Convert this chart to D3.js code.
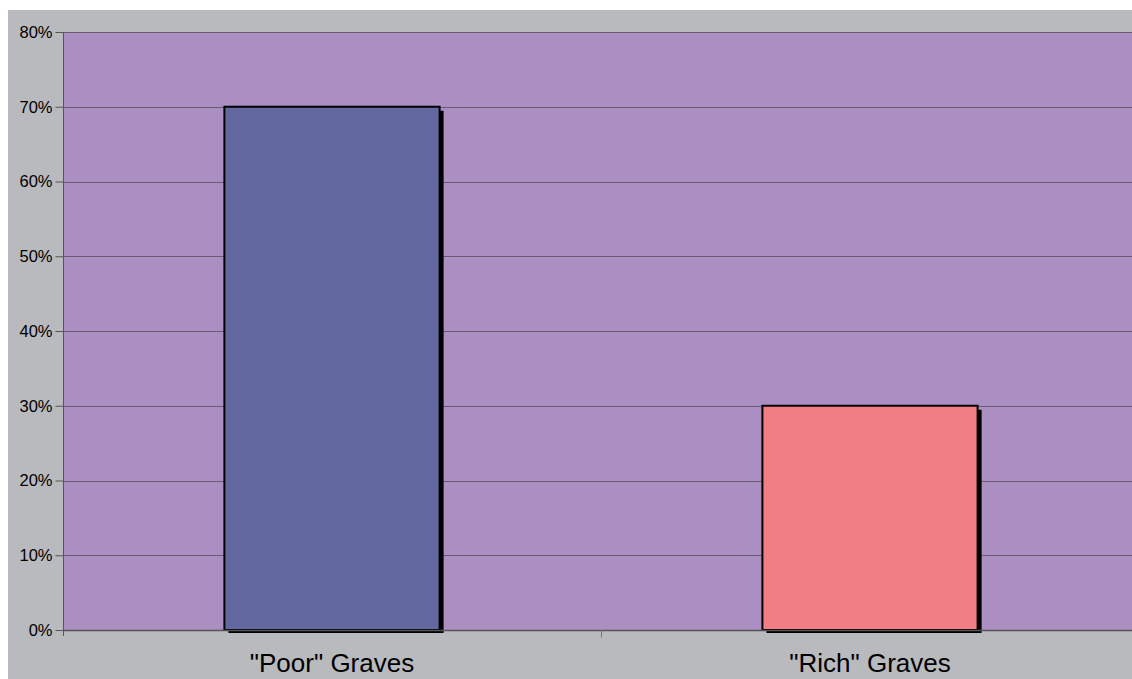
<!DOCTYPE html>
<html>
<head>
<meta charset="utf-8">
<script src="https://cdn.jsdelivr.net/npm/d3@7"></script>
<style>
  html, body { margin: 0; padding: 0; background: #ffffff; }
  svg { display: block; }
</style>
</head>
<body>
<svg id="chart" width="1132" height="679"></svg>
<script>
// Share of graves by type
const categories = ['"Poor" Graves', '"Rich" Graves'];
const values = [0.70, 0.30];
const barColors = ["#6468a0", "#f07e82"];
const yTicks = [0, 0.1, 0.2, 0.3, 0.4, 0.5, 0.6, 0.7, 0.8];

const W = 1132, H = 679;
const svg = d3.select("#chart");

// Grey chart area inset from the white page edge
svg.append("rect").attr("x", 8).attr("y", 10).attr("width", W - 8).attr("height", H - 10)
  .attr("fill", "#b9babd");

const plot = { left: 63, top: 32, right: 1139, bottom: 630 };

const x = d3.scaleBand().domain(categories).range([plot.left, plot.right]).paddingInner(0).paddingOuter(0);
const y = d3.scaleLinear().domain([0, 0.8]).range([plot.bottom, plot.top]);

// Plot background
svg.append("rect")
  .attr("x", plot.left).attr("y", plot.top)
  .attr("width", plot.right - plot.left).attr("height", plot.bottom - plot.top)
  .attr("fill", "#ab8fc3");

// Horizontal gridlines
svg.append("g").selectAll("line").data(yTicks.filter(d => d > 0)).join("line")
  .attr("x1", plot.left).attr("x2", plot.right)
  .attr("y1", d => Math.round(y(d)) + 0.5).attr("y2", d => Math.round(y(d)) + 0.5)
  .attr("stroke", "#6a5a78").attr("stroke-width", 1);

// Bars with a drop shadow offset to the lower right
const barW = x.bandwidth() * 0.4;
const bars = svg.append("g").selectAll("g").data(categories).join("g");
bars.append("rect")
  .attr("x", d => x(d) + (x.bandwidth() - barW) / 2 + 4)
  .attr("y", (d, i) => y(values[i]) + 4)
  .attr("width", barW).attr("height", (d, i) => y(0) - y(values[i]) - 1)
  .attr("fill", "#000");
bars.append("rect")
  .attr("x", d => x(d) + (x.bandwidth() - barW) / 2)
  .attr("y", (d, i) => y(values[i]))
  .attr("width", barW).attr("height", (d, i) => y(0) - y(values[i]))
  .attr("fill", (d, i) => barColors[i])
  .attr("stroke", "#000").attr("stroke-width", 2);

// Y axis
const yAxis = d3.axisLeft(y).tickValues(yTicks).tickFormat(d3.format(".0%")).tickSize(8).tickPadding(3);
const gy = svg.append("g").attr("transform", `translate(${plot.left + 0.5},0)`).call(yAxis);
gy.select(".domain").attr("stroke", "#555").attr("d", `M0,${plot.top}V${plot.bottom + 6}`);
gy.selectAll(".tick line").attr("stroke", "#555");
gy.selectAll(".tick text")
  .attr("font-family", "Liberation Sans, Arial, sans-serif")
  .attr("font-size", 16.5).attr("fill", "#000");

// X axis
const xAxis = d3.axisBottom(x).tickSize(0).tickPadding(0);
const gx = svg.append("g").attr("transform", `translate(0,${plot.bottom + 0.5})`).call(xAxis);
gx.select(".domain").attr("stroke", "#555").attr("stroke-width", 1.5).attr("d", `M${plot.left},0H${W}`);
gx.selectAll(".tick text")
  .attr("font-family", "Liberation Sans, Arial, sans-serif")
  .attr("font-size", 26).attr("fill", "#000")
  .attr("dy", 0).attr("y", 41);
// Category boundary tick
gx.append("line")
  .attr("x1", Math.round(x(categories[1])) + 0.5).attr("x2", Math.round(x(categories[1])) + 0.5)
  .attr("y1", 0).attr("y2", 7).attr("stroke", "#777");
</script>
</body>
</html>
